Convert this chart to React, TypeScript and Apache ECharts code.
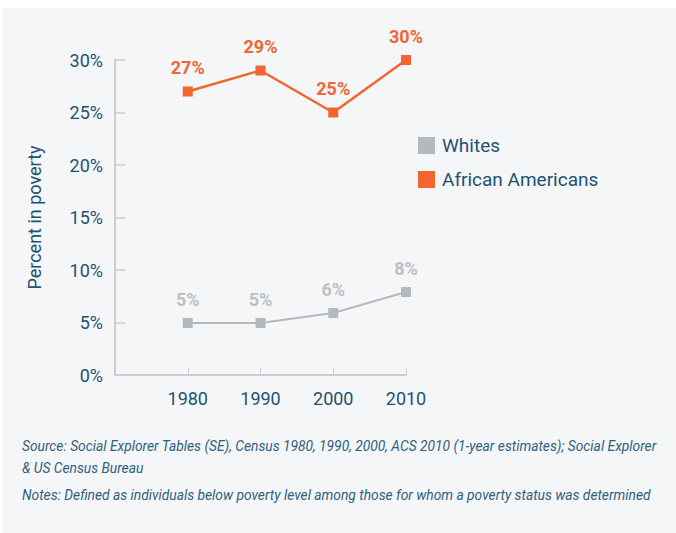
import React, { useEffect, useRef } from "react";
import * as echarts from "echarts";

const years = [1980, 1990, 2000, 2010];
const whites = [4.95, 4.95, 5.9, 7.9];
const africanAmericans = [27, 29, 25, 30];
const whitesLabels = ["5%", "5%", "6%", "8%"];
const aaLabels = ["27%", "29%", "25%", "30%"];
const yTicks = [0, 5, 10, 15, 20, 25, 30];

const FONT = "'Roboto', sans-serif";
const TEAL = "#1f5273";
const ORANGE = "#f26531";
const GRAY = "#b4b9be";
const AXIS = "#c9ccd0";

export default function App() {
  const ref = useRef<HTMLDivElement>(null);
  useEffect(() => {
    if (!ref.current) return;
    const chart = echarts.init(ref.current, undefined, { renderer: "svg" });
    const mk = (vals: number[]) => years.map((y, i) => [y, vals[i]]);
    chart.setOption({
      animation: false,
      backgroundColor: "#ffffff",
      graphic: [
        {
          type: "rect",
          z: -10,
          shape: { x: 2, y: 8, width: 674, height: 525 },
          style: { fill: "#f5f6f8" },
        },
        {
          type: "text",
          left: 22,
          top: 435,
          style: {
            text: "Source: Social Explorer Tables (SE), Census 1980, 1990, 2000, ACS 2010 (1-year estimates); Social Explorer\n& US Census Bureau",
            font: "italic 13.8px " + FONT,
            fill: "#2e6080",
            lineHeight: 22,
          },
        },
        {
          type: "text",
          left: 22,
          top: 488,
          style: {
            text: "Notes: Defined as individuals below poverty level among those for whom a poverty status was determined",
            font: "italic 13.8px " + FONT,
            fill: "#2e6080",
          },
        },
      ],
      grid: { left: 115, top: 60, right: 270, bottom: 158, containLabel: false },
      legend: {
        orient: "vertical",
        left: 413,
        top: 131,
        itemWidth: 17,
        itemHeight: 17,
        itemGap: 15,
        icon: "rect",
        data: ["Whites", "African Americans"],
        textStyle: { color: TEAL, fontSize: 19, fontFamily: FONT, padding: [0, 0, 0, 2] },
      },
      xAxis: {
        type: "value",
        min: 1970,
        max: 2010,
        interval: 10,
        splitLine: { show: false },
        axisLine: { show: true, lineStyle: { color: AXIS, width: 2 } },
        axisTick: { show: true, inside: true, length: 7, lineStyle: { color: AXIS, width: 1 } },
        axisLabel: {
          color: TEAL,
          fontSize: 18,
          fontFamily: FONT,
          margin: 14,
          formatter: (v: number) => (years.includes(v) ? String(v) : ""),
        },
      },
      yAxis: {
        type: "value",
        min: 0,
        max: 30,
        interval: 5,
        name: "Percent in poverty",
        nameLocation: "middle",
        nameGap: 72,
        nameTextStyle: { color: TEAL, fontSize: 18, fontFamily: FONT },
        splitLine: { show: false },
        axisLine: { show: true, lineStyle: { color: AXIS, width: 2 } },
        axisTick: { show: true, inside: true, length: 10, lineStyle: { color: AXIS, width: 1.5 } },
        axisLabel: {
          color: TEAL,
          fontSize: 18,
          fontFamily: FONT,
          margin: 12,
          formatter: (v: number) => (yTicks.includes(v) ? v + "%" : ""),
        },
      },
      series: [
        {
          name: "Whites",
          type: "line",
          data: mk(whites),
          symbol: "rect",
          symbolSize: 10,
          color: GRAY,
          lineStyle: { color: GRAY, width: 2 },
          itemStyle: { color: GRAY },
          label: {
            show: true,
            position: "top",
            distance: 10,
            color: "#bcc0c4",
            fontSize: 18,
            fontWeight: "bold",
            fontFamily: FONT,
            formatter: (p: any) => whitesLabels[p.dataIndex],
          },
        },
        {
          name: "African Americans",
          type: "line",
          data: mk(africanAmericans),
          symbol: "rect",
          symbolSize: 10,
          color: ORANGE,
          lineStyle: { color: ORANGE, width: 2.5 },
          itemStyle: { color: ORANGE },
          label: {
            show: true,
            position: "top",
            distance: 10,
            color: ORANGE,
            fontSize: 18,
            fontWeight: "bold",
            fontFamily: FONT,
            formatter: (p: any) => aaLabels[p.dataIndex],
          },
        },
      ],
    });
    return () => chart.dispose();
  }, []);
  return (
    <div
      ref={ref}
      style={{ position: "fixed", left: 0, top: 0, width: 676, height: 533 }}
    />
  );
}
